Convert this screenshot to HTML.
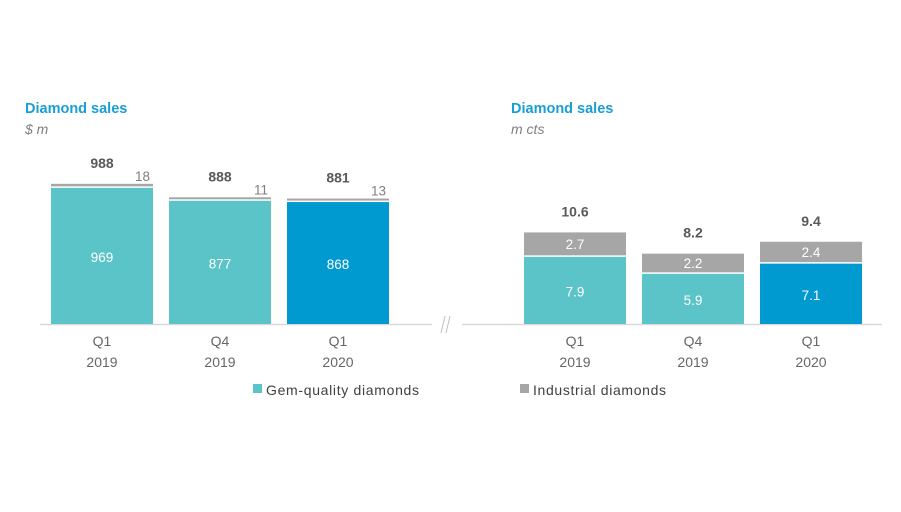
<!DOCTYPE html>
<html><head><meta charset="utf-8"><style>
body{margin:0;background:#fff;}
svg text{font-family:"Liberation Sans",Calibri,sans-serif;}
</style></head><body>
<svg width="901" height="507" xmlns="http://www.w3.org/2000/svg">
<text x="25" y="113" font-size="14.5" font-weight="bold" fill="#1a9ed4">Diamond sales</text>
<text x="25" y="134" font-size="14" font-style="italic" fill="#7f7f7f">$ m</text>
<text x="511" y="113" font-size="14.5" font-weight="bold" fill="#1a9ed4">Diamond sales</text>
<text x="511" y="134" font-size="14" font-style="italic" fill="#7f7f7f">m cts</text>
<line x1="40" y1="324.5" x2="432" y2="324.5" stroke="#d9d9d9" stroke-width="1.5"/>
<line x1="462" y1="324.5" x2="882" y2="324.5" stroke="#d9d9d9" stroke-width="1.5"/>
<g stroke="#bfbfbf" stroke-width="1">
<line x1="441" y1="333" x2="445" y2="316"/><line x1="446" y1="333" x2="450" y2="316"/></g>
<g id="left"></g><g id="right"></g>
<g>
<rect x="253" y="384" width="9" height="9" fill="#5bc4c8"/>
<text x="266" y="395" font-size="14" fill="#404040" textLength="153">Gem-quality diamonds</text>
<rect x="520" y="384" width="9" height="9" fill="#a6a6a6"/>
<text x="533" y="395" font-size="14" fill="#404040" textLength="133">Industrial diamonds</text>
</g>
</svg>
<script>
const quarters=["Q1","Q4","Q1"];
const years=["2019","2019","2020"];
const leftGem=[969,877,868];
const leftInd=[18,11,13];
const leftTotal=["988","888","881"];
const rightGem=[7.9,5.9,7.1];
const rightInd=[2.7,2.2,2.4];
const rightTotal=["10.6","8.2","9.4"];
const NS="http://www.w3.org/2000/svg";
const base=324;
function mk(parent,tag,attrs,txt){const e=document.createElementNS(NS,tag);for(const k in attrs)e.setAttribute(k,attrs[k]);if(txt!==undefined)e.textContent=txt;parent.appendChild(e);return e;}
function draw(gid,x0,step,scale,gem,ind,tot,stackedLabels,fmt){
  const g=document.getElementById(gid);const w=102;
  gem.forEach((v,i)=>{
    const x=x0+i*step;const col=i===2?"#0099d0":"#5bc4c8";
    const hg=v*scale;const hi=Math.max(ind[i]*scale,2);
    const gy=base-hg;
    const r=mk(g,"rect",{x:x,y:gy,width:w,height:hg,fill:col});
    
    
    const iy=gy-1.5-hi;
    const r2=mk(g,"rect",{x:x,y:iy,width:w,height:hi,fill:"#a6a6a6"});
    
    
    const t=mk(g,"text",{x:x+w/2,y:gy+hg/2+6,"font-size":13.5,fill:"#fff","text-anchor":"middle"},fmt(v));
    
    
    let t2;
    if(stackedLabels){t2=mk(g,"text",{x:x+w/2,y:iy+hi/2+5,"font-size":13.5,fill:"#fff","text-anchor":"middle"},fmt(ind[i]));}
    else{t2=mk(g,"text",{x:x+w-3,y:iy-3,"font-size":13.5,fill:"#7f7f7f","text-anchor":"end"},fmt(ind[i]));}
    
    
    const t3=mk(g,"text",{x:x+w/2,y:stackedLabels?iy-16:iy-16,"font-size":14,"font-weight":"bold",fill:"#595959","text-anchor":"middle"},tot[i]);
    
    
    const q=mk(g,"text",{x:x+w/2,y:346,"font-size":14,fill:"#666","text-anchor":"middle"},quarters[i]);
    
    
    const yv=mk(g,"text",{x:x+w/2,y:367,"font-size":14,fill:"#666","text-anchor":"middle"},years[i]);
    
    
  });
}
draw("left",51,118,0.1405,leftGem,leftInd,leftTotal,false,v=>String(v));
draw("right",524,118,8.5,rightGem,rightInd,rightTotal,true,v=>v.toFixed(1));
</script>
</body></html>
